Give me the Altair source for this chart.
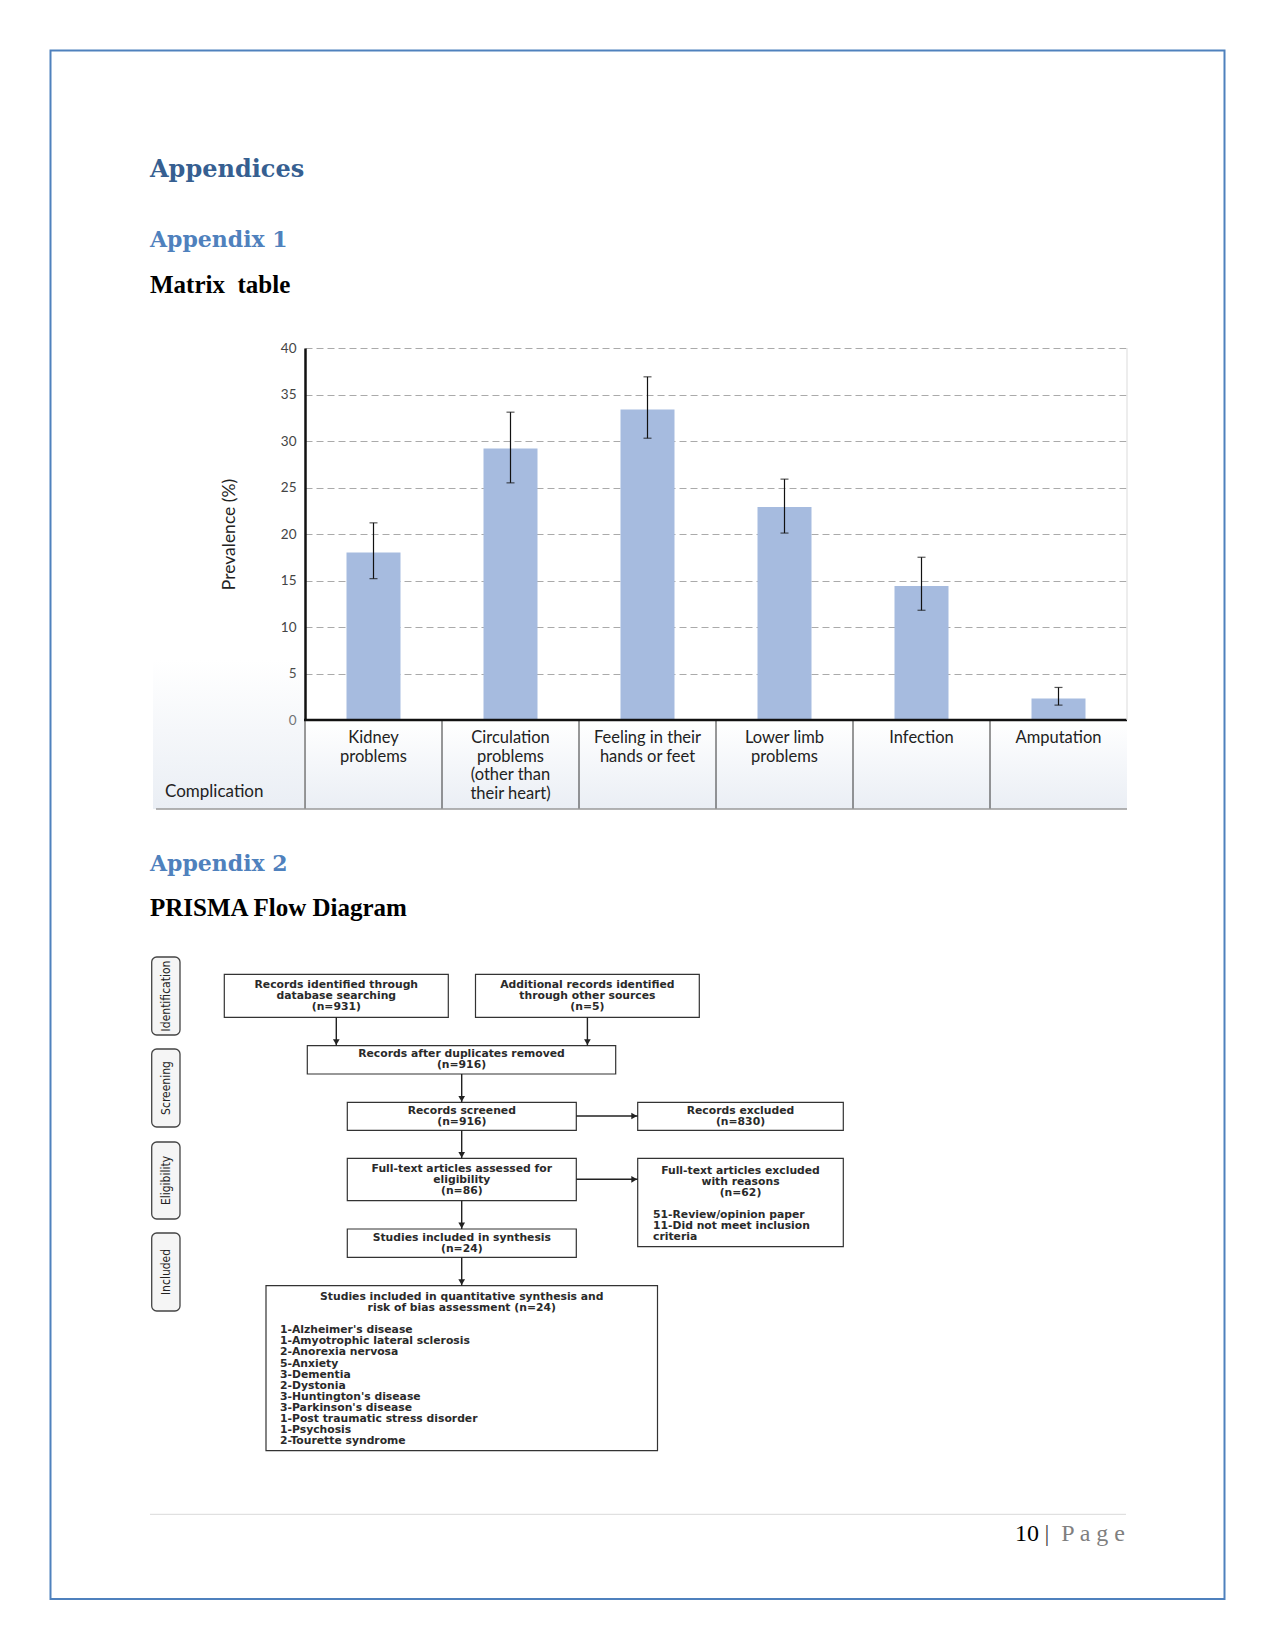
import altair as alt
import pandas as pd

W, H = 1275, 1650

# ------------------------------------------------------------------ values
categories = [
    "Kidney problems",
    "Circulation problems (other than their heart)",
    "Feeling in their hands or feet",
    "Lower limb problems",
    "Infection",
    "Amputation",
]
category_labels = [
    "Kidney\nproblems",
    "Circulation\nproblems\n(other than\ntheir heart)",
    "Feeling in their\nhands or feet",
    "Lower limb\nproblems",
    "Infection",
    "Amputation",
]
prevalence = [18.0, 29.2, 33.4, 22.9, 14.4, 2.3]
ci_low = [15.2, 25.5, 30.3, 20.1, 11.8, 1.6]
ci_high = [21.2, 33.1, 36.9, 25.9, 17.5, 3.5]
y_ticks = [0, 5, 10, 15, 20, 25, 30, 35, 40]
y_title = "Prevalence (%)"
x_title = "Complication"

heading_texts = ["Appendices", "Appendix 1", "Appendix 2"]
subheading_texts = ["Matrix\u00a0 table", "PRISMA Flow Diagram"]
stage_labels = ["Identification", "Screening", "Eligibility", "Included"]
box_texts = [
    "Records identified through\ndatabase searching\n(n=931)",
    "Additional records identified\nthrough other sources\n(n=5)",
    "Records after duplicates removed\n(n=916)",
    "Records screened\n(n=916)",
    "Records excluded\n(n=830)",
    "Full-text articles assessed for\neligibility\n(n=86)",
    "Full-text articles excluded\nwith reasons\n(n=62)",
    "Studies included in synthesis\n(n=24)",
    "Studies included in quantitative synthesis and\nrisk of bias assessment (n=24)",
]
reason_lines = ["51-Review/opinion paper", "11-Did not meet inclusion", "criteria"]
condition_lines = [
    "1-Alzheimer's disease",
    "1-Amyotrophic lateral sclerosis",
    "2-Anorexia nervosa",
    "5-Anxiety",
    "3-Dementia",
    "2-Dystonia",
    "3-Huntington's disease",
    "3-Parkinson's disease",
    "1-Post traumatic stress disorder",
    "1-Psychosis",
    "2-Tourette syndrome",
]
footer_num = "10"
footer_sep = "|"
footer_word = "P a g e"

# ------------------------------------------------------------------ layout (pixels)
PLOT_L, PLOT_R, PLOT_T, PLOT_B = 305, 1127, 348, 720
TABLE_B = 809
heading_x = [150, 150, 150]
heading_y = [177, 247, 871]
heading_size = [24, 22, 22]
heading_color = ["#365f91", "#4f81bd", "#4f81bd"]
subheading_x = [150, 150]
subheading_y = [293, 916]

stage_x0, stage_x1 = 151.7, 180
stage_y0 = [957, 1049, 1142, 1233]
stage_y1 = [1035, 1127, 1219, 1311]

box_x0 = [224.3, 475.5, 307.3, 347.3, 637.7, 347.3, 637.7, 347.3, 266.0]
box_x1 = [448.3, 699.3, 615.7, 576.3, 843.3, 576.3, 843.3, 576.3, 657.5]
box_y0 = [974.3, 974.3, 1045.7, 1102.3, 1102.3, 1158.3, 1158.3, 1229.0, 1285.7]
box_y1 = [1017.3, 1017.3, 1074.0, 1130.3, 1130.3, 1200.7, 1246.7, 1257.3, 1450.7]
box_text_y = [988.3, 988.3, 1057.3, 1113.7, 1113.7, 1172.0, 1174.0, 1241.0, 1299.5]
list_x = [653.0, 280.0]
list_y = [1218.0, 1333.3]

arrow_x0 = [336.3, 587.4, 461.7, 461.7, 461.7, 461.7, 576.3, 576.3]
arrow_x1 = [336.3, 587.4, 461.7, 461.7, 461.7, 461.7, 637.7, 637.7]
arrow_y0 = [1017.3, 1017.3, 1074.0, 1130.3, 1200.7, 1257.3, 1116.0, 1179.3]
arrow_y1 = [1045.7, 1045.7, 1102.3, 1158.3, 1229.0, 1285.7, 1116.0, 1179.3]

LINE_H = 11.1
FLOW_FONT = "DejaVu Sans"
FLOW_SIZE = 10.8
CHART_FONT = "Lato"

# ------------------------------------------------------------------ scales
PX = alt.Scale(domain=[0, W], range=[0, W], nice=False, zero=False)
PY = alt.Scale(domain=[0, H], range=[0, H], nice=False, zero=False)
CX = alt.Scale(domain=categories, range=[PLOT_L, PLOT_R], paddingInner=0, paddingOuter=0)
CY = alt.Scale(domain=[0, 40], range=[PLOT_B, PLOT_T], nice=False, zero=True)


def px(f):
    return alt.X(f"{f}:Q", scale=PX, axis=None)


def py(f):
    return alt.Y(f"{f}:Q", scale=PY, axis=None)


def cx(**kw):
    return alt.X("cat:N", scale=CX, axis=None, **kw)


layers = []

# ---------------- page border
border = pd.DataFrame({"x0": [50.5], "x1": [1224.5], "y0": [50.5], "y1": [1599]})
layers.append(
    alt.Chart(border).mark_rect(fill="transparent", stroke="#4f81bd", strokeWidth=2).encode(
        x=px("x0"), x2="x1", y=py("y0"), y2="y1"
    )
)

# ---------------- headings
hd = pd.DataFrame({"t": heading_texts, "x": heading_x, "y": heading_y,
                   "s": heading_size, "c": heading_color})
layers.append(
    alt.Chart(hd).mark_text(font="DejaVu Serif", fontWeight="bold", align="left",
                            baseline="alphabetic").encode(
        x=px("x"), y=py("y"), text="t:N",
        size=alt.Size("s:Q", scale=None), color=alt.Color("c:N", scale=None)
    )
)
sh = pd.DataFrame({"t": subheading_texts, "x": subheading_x, "y": subheading_y})
layers.append(
    alt.Chart(sh).mark_text(font="Liberation Serif", fontWeight="bold", fontSize=25,
                            align="left", baseline="alphabetic", color="#000000").encode(
        x=px("x"), y=py("y"), text="t:N"
    )
)

# ---------------- chart background tint (translucent so axis labels stay visible)
tint = alt.LinearGradient(
    gradient="linear",
    stops=[alt.GradientStop(color="rgba(225,231,240,0)", offset=0),
           alt.GradientStop(color="rgba(225,231,240,0.7)", offset=1)],
    x1=0, x2=0, y1=0, y2=1,
)
tint_df = pd.DataFrame({"x0": [153, PLOT_L], "x1": [PLOT_L - 1, PLOT_R],
                        "y0": [660, PLOT_B + 1], "y1": [TABLE_B, TABLE_B]})
layers.append(
    alt.Chart(tint_df).mark_rect(fill=tint).encode(x=px("x0"), x2="x1", y=py("y0"), y2="y1")
)

chart_df = pd.DataFrame({"cat": categories, "label": category_labels,
                         "val": prevalence, "lo": ci_low, "hi": ci_high})

# bars + y axis (gridlines drawn by the axis)
layers.append(
    alt.Chart(chart_df).mark_bar(size=54, color="#a6bbdf").encode(
        x=cx(),
        y=alt.Y("val:Q", scale=CY, axis=alt.Axis(
            values=y_ticks, offset=-PLOT_L, domain=True, domainColor="#111111",
            domainWidth=2.5, ticks=False, labelPadding=9, labelFont=CHART_FONT,
            labelFontSize=13.5, labelColor="#444444", grid=True, gridDash=[7, 4],
            gridColor="#aaaaaa", gridWidth=1, title=y_title, titleFont=CHART_FONT,
            titleFontSize=17.5, titleFontWeight="normal", titleColor="#222222",
            titlePadding=42)),
    )
)
# error bars
layers.append(
    alt.Chart(chart_df).mark_rule(color="#111111", strokeWidth=1.2).encode(
        x=cx(), y=alt.Y("lo:Q", scale=CY, axis=None), y2="hi:Q"
    )
)
for f in ["lo", "hi"]:
    layers.append(
        alt.Chart(chart_df).mark_tick(color="#111111", size=8, thickness=1.2).encode(
            x=cx(), y=alt.Y(f"{f}:Q", scale=CY, axis=None)
        )
    )
# table dividers
layers.append(
    alt.Chart(chart_df).mark_rule(color="#333333", strokeWidth=1).encode(
        x=cx(bandPosition=0), y=alt.value(PLOT_B), y2=alt.value(TABLE_B)
    )
)
# x axis line at 0
zero_df = pd.DataFrame({"v": [0]})
layers.append(
    alt.Chart(zero_df).mark_rule(color="#111111", strokeWidth=2.5).encode(
        y=alt.Y("v:Q", scale=CY, axis=None), x=alt.value(PLOT_L - 1), x2=alt.value(PLOT_R)
    )
)
# faint right edge + bottom line
edge_df = pd.DataFrame({"x0": [PLOT_R, 156], "x1": [PLOT_R, PLOT_R],
                        "y0": [PLOT_T, TABLE_B], "y1": [PLOT_B, TABLE_B],
                        "c": ["#e4e4e4", "#9a9a9a"]})
layers.append(
    alt.Chart(edge_df).mark_rule(strokeWidth=1.3).encode(
        x=px("x0"), x2="x1", y=py("y0"), y2="y1", color=alt.Color("c:N", scale=None)
    )
)
# category labels
layers.append(
    alt.Chart(chart_df).mark_text(font=CHART_FONT, fontSize=16.5, color="#222222",
                                  lineBreak="\n", lineHeight=18.5, align="center",
                                  baseline="alphabetic").encode(
        x=cx(), y=alt.value(743), text="label:N"
    )
)
comp_df = pd.DataFrame({"t": [x_title], "x": [165], "y": [797]})
layers.append(
    alt.Chart(comp_df).mark_text(font=CHART_FONT, fontSize=17, color="#222222",
                                 align="left", baseline="alphabetic").encode(
        x=px("x"), y=py("y"), text="t:N"
    )
)

# ---------------- PRISMA flow diagram
stage_df = pd.DataFrame({"t": stage_labels, "x0": [stage_x0] * 4, "x1": [stage_x1] * 4,
                         "y0": stage_y0, "y1": stage_y1})
stage_df["xc"] = (stage_df["x0"] + stage_df["x1"]) / 2
stage_df["yc"] = (stage_df["y0"] + stage_df["y1"]) / 2
layers.append(
    alt.Chart(stage_df).mark_rect(fill="#f5f5f5", stroke="#444444", strokeWidth=1.3,
                                  cornerRadius=5).encode(
        x=px("x0"), x2="x1", y=py("y0"), y2="y1"
    )
)
layers.append(
    alt.Chart(stage_df).mark_text(font="Liberation Sans Narrow, DejaVu Sans Condensed, sans-serif",
                                  fontSize=12, angle=270, align="center", baseline="middle",
                                  color="#222222").encode(
        x=px("xc"), y=py("yc"), text="t:N"
    )
)

box_df = pd.DataFrame({"t": box_texts, "x0": box_x0, "x1": box_x1, "y0": box_y0,
                       "y1": box_y1, "ty": box_text_y})
box_df["xc"] = (box_df["x0"] + box_df["x1"]) / 2
layers.append(
    alt.Chart(box_df).mark_rect(fill="white", stroke="#333333", strokeWidth=1.2).encode(
        x=px("x0"), x2="x1", y=py("y0"), y2="y1"
    )
)
layers.append(
    alt.Chart(box_df).mark_text(font=FLOW_FONT, fontWeight="bold", fontSize=FLOW_SIZE,
                                color="#2a2a2a", lineBreak="\n", lineHeight=LINE_H,
                                align="center", baseline="alphabetic").encode(
        x=px("xc"), y=py("ty"), text="t:N"
    )
)
list_df = pd.DataFrame({"t": ["\n".join(reason_lines), "\n".join(condition_lines)],
                        "x": list_x, "y": list_y})
layers.append(
    alt.Chart(list_df).mark_text(font=FLOW_FONT, fontWeight="bold", fontSize=FLOW_SIZE,
                                 color="#2a2a2a", lineBreak="\n", lineHeight=LINE_H,
                                 align="left", baseline="alphabetic").encode(
        x=px("x"), y=py("y"), text="t:N"
    )
)

arrow_df = pd.DataFrame({"x0": arrow_x0, "x1": arrow_x1, "y0": arrow_y0, "y1": arrow_y1})
layers.append(
    alt.Chart(arrow_df).mark_rule(color="#222222", strokeWidth=1.4).encode(
        x=px("x0"), x2="x1", y=py("y0"), y2="y1"
    )
)
down = arrow_df[arrow_df["x0"] == arrow_df["x1"]].copy()
down["hy"] = down["y1"] - 3.5
right = arrow_df[arrow_df["y0"] == arrow_df["y1"]].copy()
right["hx"] = right["x1"] - 3.5
layers.append(
    alt.Chart(down).mark_point(shape="triangle-down", filled=True, size=45, color="#222222",
                               opacity=1).encode(x=px("x1"), y=py("hy"))
)
layers.append(
    alt.Chart(right).mark_point(shape="triangle-right", filled=True, size=45, color="#222222",
                                opacity=1).encode(x=px("hx"), y=py("y1"))
)

# ---------------- footer
foot_line = pd.DataFrame({"x0": [150], "x1": [1126], "y": [1514.3]})
layers.append(
    alt.Chart(foot_line).mark_rule(color="#d9d9d9", strokeWidth=1).encode(
        x=px("x0"), x2="x1", y=py("y")
    )
)
foot_df = pd.DataFrame({"t": [footer_num, footer_word], "x": [1039, 1125], "y": [1541, 1541],
                        "c": ["#000000", "#7f7f7f"]})
layers.append(
    alt.Chart(foot_df).mark_text(font="Liberation Serif", fontSize=24, align="right",
                                 baseline="alphabetic").encode(
        x=px("x"), y=py("y"), text="t:N", color=alt.Color("c:N", scale=None)
    )
)
sep_df = pd.DataFrame({"t": [footer_sep], "x": [1047], "y": [1541]})
layers.append(
    alt.Chart(sep_df).mark_text(font="Liberation Serif", fontSize=24, align="center",
                                baseline="alphabetic", color="#444444").encode(
        x=px("x"), y=py("y"), text="t:N"
    )
)

chart = (
    alt.layer(*layers)
    .resolve_scale(x="independent", y="independent")
    .properties(width=W, height=H, autosize=alt.AutoSizeParams(type="none"),
                padding=0, background="white")
    .configure_view(strokeWidth=0)
)

chart.save("out.html", embed_options={"renderer": "svg", "actions": False})
